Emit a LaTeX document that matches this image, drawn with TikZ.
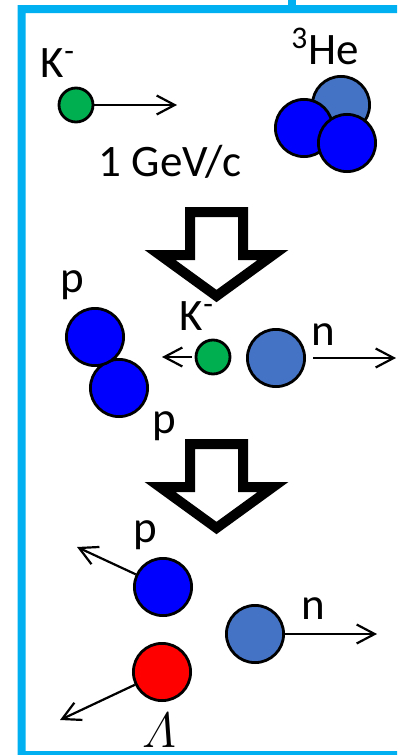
\documentclass[tikz,border=0pt]{standalone}
\usepackage{amsmath}
\usepackage{fontspec}
\setmainfont{Carlito}
\usepackage{xcolor}
\usetikzlibrary{arrows.meta}

\definecolor{boxblue}{HTML}{00B0F0}
\definecolor{pblue}{HTML}{0000FF}
\definecolor{nblue}{HTML}{4472C4}
\definecolor{kgreen}{HTML}{00B050}
\definecolor{lred}{HTML}{FF0000}

\begin{document}
\begin{tikzpicture}[
  x=0.5pt, y=-0.5pt,
  part/.style={circle, draw, line width=1.4pt, inner sep=0pt, minimum size=28.6pt},
  proton/.style={part, fill=pblue},
  neutron/.style={part, fill=nblue},
  kaon/.style={part, fill=kgreen, minimum size=17pt},
  hyperon/.style={part, fill=lred},
  lbl/.style={inner sep=0pt, anchor=base, font=\fontsize{22.5}{26}\selectfont},
  ar/.style={-{Straight Barb[length=9pt,width=9.5pt]}, line width=1.1pt},
  bigar/.style={draw, line width=5pt, miter limit=10, fill=white}
]
\useasboundingbox (0,0) rectangle (397,755);

% incoming kaon and target
\node[kaon] (kin) at (76,105) {};
\node[lbl] (kinl) at (58,77) {K\textsuperscript{-}};
\coordinate (kinend) at (177,105);
\draw[ar] (kin) -- (kinend);
\node[lbl] (mom) at (170,176) {1 GeV/c};

\node[neutron] (he0) at (341,105) {};
\node[proton] (he1) at (304,128) {};
\node[proton] (he2) at (347,143) {};
\node[lbl] (hel) at (325,64) {\textsuperscript{3}He};

% steps
\foreach \dy in {0,232}
  \draw[bigar] (190,212+\dy) -- (243,212+\dy) -- (243,255+\dy) -- (273,255+\dy)
    -- (216.5,296+\dy) -- (160,255+\dy) -- (190,255+\dy) -- cycle;

% K- absorbed, n knocked out
\node[proton] (pa) at (119,388) {};
\node[proton] (pb) at (95,337) {};
\node[lbl] (pbl) at (72,292) {p};
\node[lbl] (pal) at (164,433) {p};

\node[kaon] (kmid) at (213,357) {};
\node[lbl] (kmidl) at (197,330) {K\textsuperscript{-}};
\coordinate (kmidend) at (162,357);
\draw[ar, shorten <=1.5pt] (kmid) -- (kmidend);

\node[neutron] (nmid) at (276,358) {};
\node[lbl] (nmidl) at (323,345) {n};
\coordinate (nmidend) at (396,358);
\draw[ar, shorten <=3.5pt] (nmid) -- (nmidend);

% final state
\node[proton] (pfin) at (163,587) {};
\node[lbl] (pfinl) at (145,542) {p};
\coordinate (pfinend) at (77,547);
\draw[ar] (pfin) -- (pfinend);

\node[neutron] (nfin) at (255,634) {};
\node[lbl] (nfinl) at (313,619) {n};
\coordinate (nfinend) at (377,634);
\draw[ar] (nfin) -- (nfinend);

\node[hyperon] (lfin) at (162,672) {};
\node[inner sep=0pt, anchor=base, font=\fontsize{24}{28}\selectfont] (lfinl) at (159,747) {$\varLambda$};
\coordinate (lfinend) at (60,720);
\draw[ar] (lfin) -- (lfinend);

% frame (open to the right)
\fill[boxblue] (288,0) rectangle (296,9);
\fill[boxblue] (397,5) -- (17.5,5) -- (17.5,759) -- (397,759) -- (397,751)
  -- (25.5,751) -- (25.5,13) -- (397,13) -- cycle;
\end{tikzpicture}
\end{document}
